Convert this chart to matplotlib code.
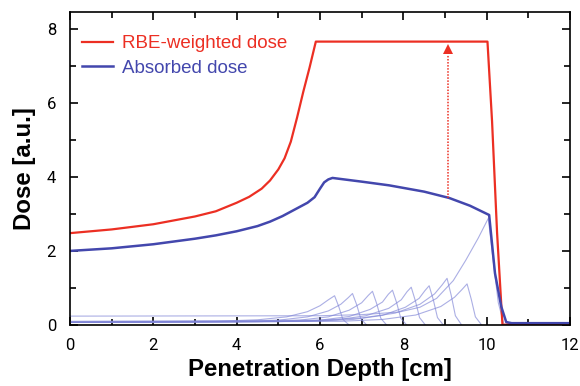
import matplotlib
matplotlib.use("Agg")
import matplotlib.pyplot as plt
from matplotlib.ticker import MultipleLocator

# RBE-weighted dose
rbe_x = [0, 1, 2, 3, 3.5, 4, 4.3, 4.6, 4.8, 5.0, 5.15, 5.3, 5.45, 5.6, 5.75, 5.9,
         10.02, 10.13, 10.25, 10.38, 10.6, 12]
rbe_y = [2.48, 2.58, 2.72, 2.93, 3.07, 3.3, 3.46, 3.68, 3.9, 4.2, 4.5, 4.95, 5.6, 6.3, 6.95, 7.65,
         7.65, 5.5, 2.5, 0.0, 0.03, 0.03]

# absorbed dose (spread-out Bragg peak)
abs_x = [0, 1, 2, 3, 3.5, 4, 4.5, 4.8, 5.1, 5.4, 5.7, 5.87, 6.0, 6.1, 6.2, 6.3, 7, 7.66, 8.5,
         9.1, 9.6, 10.06, 10.2, 10.35, 10.47, 10.6, 12]
abs_y = [2.0, 2.07, 2.18, 2.33, 2.42, 2.53, 2.67, 2.79, 2.94, 3.12, 3.3, 3.45, 3.68, 3.85, 3.93,
         3.97, 3.87, 3.77, 3.6, 3.43, 3.22, 2.97, 1.4, 0.5, 0.08, 0.05, 0.05]

# single weighted Bragg peaks (thin lines)
peaks = [
    ([0, 3.5, 4.5, 5.2, 5.7, 6.0, 6.2, 6.35, 6.45, 6.55, 6.7],
     [0.08, 0.1, 0.14, 0.22, 0.36, 0.52, 0.68, 0.79, 0.5, 0.15, 0.0]),
    ([0, 4.0, 5.0, 5.7, 6.2, 6.5, 6.68, 6.78, 6.88, 6.98, 7.12],
     [0.07, 0.09, 0.13, 0.22, 0.38, 0.56, 0.74, 0.85, 0.55, 0.17, 0.0]),
    ([0, 4.5, 5.5, 6.2, 6.7, 7.0, 7.16, 7.26, 7.36, 7.46, 7.6],
     [0.07, 0.09, 0.13, 0.22, 0.4, 0.6, 0.8, 0.91, 0.58, 0.18, 0.0]),
    ([0, 5.0, 6.0, 6.7, 7.2, 7.5, 7.64, 7.74, 7.84, 7.94, 8.08],
     [0.07, 0.09, 0.13, 0.23, 0.42, 0.62, 0.83, 0.94, 0.6, 0.18, 0.0]),
    ([0, 5.4, 6.4, 7.1, 7.65, 7.95, 8.09, 8.19, 8.29, 8.39, 8.53],
     [0.07, 0.1, 0.14, 0.25, 0.45, 0.68, 0.9, 1.02, 0.65, 0.2, 0.0]),
    ([0, 5.8, 6.8, 7.5, 8.05, 8.38, 8.52, 8.62, 8.72, 8.82, 8.96],
     [0.08, 0.1, 0.15, 0.26, 0.48, 0.72, 0.93, 1.06, 0.68, 0.2, 0.0]),
    ([0, 6.0, 7.0, 7.8, 8.4, 8.75, 8.93, 9.05, 9.15, 9.25, 9.4],
     [0.1, 0.13, 0.19, 0.32, 0.56, 0.84, 1.08, 1.26, 0.8, 0.25, 0.0]),
    ([0, 6.5, 7.5, 8.3, 8.9, 9.23, 9.41, 9.53, 9.63, 9.73, 9.88],
     [0.07, 0.1, 0.15, 0.27, 0.5, 0.75, 0.96, 1.11, 0.7, 0.22, 0.0]),
    ([0, 6.0, 7.0, 7.9, 8.4, 8.8, 9.2, 9.5, 9.8, 10.04, 10.15, 10.28, 10.42],
     [0.24, 0.25, 0.28, 0.35, 0.48, 0.72, 1.2, 1.75, 2.35, 2.88, 1.8, 0.6, 0.0]),
]

# dotted arrow from absorbed to RBE-weighted dose
arrow_x = 9.08
arrow_y0 = 3.43
arrow_y1 = 7.45

red = "#ec2f23"
blue = "#4347ad"
thin = "#7f84d6"

fig = plt.figure(figsize=(5.8, 3.86), dpi=100)
ax = fig.add_axes([0.1207, 0.158, 0.862, 0.811])

for px, py in peaks:
    ax.plot(px, py, color=thin, lw=0.8, alpha=0.65)

ax.plot(rbe_x, rbe_y, color=red, lw=1.6, label="RBE-weighted dose")
ax.plot(abs_x, abs_y, color=blue, lw=1.8, label="Absorbed dose")

ax.plot([arrow_x, arrow_x], [arrow_y0, arrow_y1 - 0.15], color=red, lw=1.1,
        ls=(0, (1, 1)))
ax.plot([arrow_x], [arrow_y1], marker="^", color=red, ms=7, mew=0)

ax.set_xlim(0, 12)
ax.set_ylim(0, 8.45)
ax.xaxis.set_major_locator(MultipleLocator(2))
ax.xaxis.set_minor_locator(MultipleLocator(1))
ax.yaxis.set_major_locator(MultipleLocator(2))
ax.yaxis.set_minor_locator(MultipleLocator(1))
ax.tick_params(which="both", direction="in", top=True, right=True, width=1.2,
               labelsize=12)
ax.tick_params(axis="x", pad=9)
ax.tick_params(axis="y", pad=10)
ax.tick_params(which="major", length=6)
ax.tick_params(which="minor", length=4)
for lab in ax.get_xticklabels() + ax.get_yticklabels():
    lab.set_family("Roboto")
for s in ax.spines.values():
    s.set_linewidth(1.2)

ax.set_xlabel("Penetration Depth [cm]", fontsize=17.3, fontweight="bold",
              family="Liberation Sans", labelpad=4)
ax.set_ylabel("Dose [a.u.]", fontsize=17.3, fontweight="bold",
              family="Liberation Sans", labelpad=8)

leg = ax.legend(loc="upper left", bbox_to_anchor=(-0.01, 0.98), frameon=False,
                prop={"family": "Liberation Sans", "size": 13.5},
                handlelength=1.65, handletextpad=0.5, labelspacing=0.4)
for txt, c in zip(leg.get_texts(), [red, blue]):
    txt.set_color(c)

fig.savefig("out.png", dpi=100)
